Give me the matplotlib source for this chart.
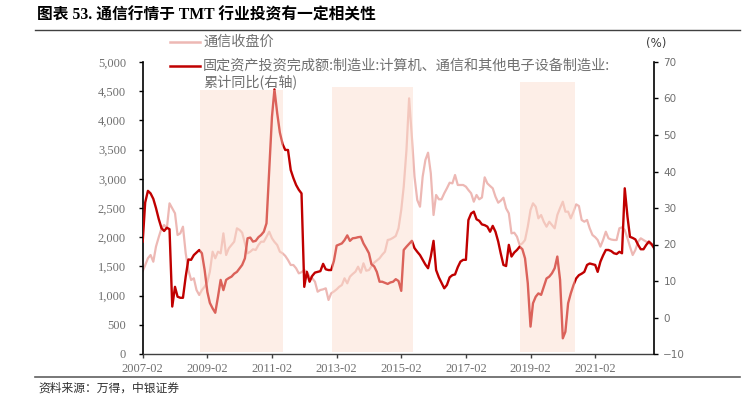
import matplotlib
matplotlib.use("Agg")
import matplotlib.pyplot as plt
import matplotlib.ticker as mticker
from matplotlib.lines import Line2D
import pandas as pd

# ---------------- data ----------------
months = pd.date_range("2007-02-01", periods=191, freq="MS")

# 通信收盘价 (left axis)
price = [
    1420, 1520, 1640, 1695, 1580, 1838, 2000, 2150, 2209, 2152,
    2580, 2495, 2409, 2038, 2066, 2180, 1724, 1438, 1267, 1296,
    1096, 1010, 1096, 1152, 1238, 1409, 1752, 1639, 1752, 1724,
    2066, 1695, 1810, 1866, 1923, 2152, 2123, 2077, 1895, 1724,
    1752, 1793, 1781, 1866, 1923, 1923, 2009, 2094, 1981, 1920,
    1866, 1752, 1724, 1680, 1610, 1524, 1524, 1467, 1381, 1400,
    1438, 1409, 1324, 1296, 1238, 1067, 1096, 1107, 1125, 925,
    1039, 1070, 1107, 1150, 1181, 1296, 1210, 1324, 1370, 1409,
    1495, 1392, 1553, 1426, 1438, 1500, 1564, 1600, 1639, 1700,
    1752, 1952, 1964, 1990, 2021, 2152, 2466, 2865, 3493, 4378,
    3721, 3036, 2637, 2522, 3036, 3322, 3447, 3094, 2380, 2723,
    2649, 2649, 2752, 2837, 2933, 2922, 3065, 2894, 2894, 2894,
    2865, 2808, 2752, 2608, 2723, 2649, 2680, 3025, 2922, 2877,
    2837, 2694, 2591, 2625, 2676, 2494, 2409, 2066, 2077, 2009,
    1866, 1895, 1952, 2180, 2466, 2580, 2522, 2323, 2380, 2265,
    2180, 2265, 2209, 2152, 2380, 2500, 2608, 2437, 2437, 2323,
    2437, 2563, 2534, 2295, 2265, 2295, 2152, 2038, 2000, 1952,
    1838, 1952, 2094, 1981, 1960, 1952, 1952, 2152, 2169, 2123,
    1981, 1838, 1695, 1781, 1923, 1981, 1952, 1923, 1900, 1866,
    1838,
]

# 固定资产投资完成额:制造业:计算机、通信和其他电子设备制造业:累计同比 (right axis, %)
fai = [
    20.8, 31.5, 34.7, 34.0, 32.5, 30.0, 27.0, 24.5, 23.7, 24.6,
    24.2, 3.0, 8.4, 5.7, 5.4, 5.4, 11.2, 15.9, 15.8, 17.1,
    17.8, 18.5, 17.6, 13.0, 7.0, 4.0, 2.5, 1.3, 5.7, 10.3,
    7.5, 10.3, 10.8, 11.2, 12.0, 12.5, 13.5, 14.4, 16.2, 21.7,
    21.9, 20.8, 21.0, 22.0, 22.6, 23.5, 25.8, 40.4, 55.0, 62.5,
    56.0, 50.7, 47.5, 45.9, 45.9, 40.4, 38.2, 36.3, 35.0, 34.0,
    8.4, 12.5, 9.8, 11.4, 12.3, 12.5, 12.7, 14.7, 13.2, 13.0,
    13.0, 15.5, 19.7, 20.0, 20.3, 21.2, 22.5, 21.0, 21.7, 21.8,
    22.0, 22.1, 20.3, 19.0, 17.6, 14.6, 14.0, 12.5, 9.8, 9.8,
    9.5, 9.2, 9.6, 9.8, 10.5, 10.0, 7.3, 18.5, 19.4, 20.2,
    21.0, 19.0, 18.0, 17.1, 15.8, 14.5, 13.5, 16.7, 21.0, 13.0,
    11.0, 9.5, 8.0, 8.9, 11.0, 11.6, 11.8, 13.8, 15.3, 15.8,
    15.8, 26.7, 28.5, 29.0, 26.9, 26.5, 25.5, 25.3, 24.9, 23.5,
    25.1, 23.5, 20.8, 17.6, 14.4, 14.1, 19.9, 16.7, 17.8, 18.5,
    19.4, 18.7, 16.2, 9.4, -2.5, 3.9, 5.7, 6.6, 6.2, 8.4,
    10.7, 11.2, 12.1, 13.5, 16.7, 10.3, -5.7, -3.9, 3.9, 6.6,
    8.9, 10.7, 11.6, 12.0, 12.5, 14.4, 14.8, 14.6, 14.4, 12.5,
    15.3, 17.0, 18.5, 18.5, 18.2, 17.6, 17.4, 18.0, 17.6, 35.4,
    27.6, 22.1, 21.8, 21.4, 19.9, 18.7, 18.7, 19.9, 20.8, 20.1,
    18.9,
]

band_starts = ["2008-11-10", "2012-12-05", "2018-10-05"]
band_ends = ["2011-06-01", "2015-06-15", "2020-06-20"]

xtick_labels = ["2007-02", "2009-02", "2011-02", "2013-02",
                "2015-02", "2017-02", "2019-02", "2021-02"]
left_ticks = list(range(0, 5001, 500))
right_ticks = list(range(-10, 71, 10))

title = "图表 53. 通信行情于 TMT 行业投资有一定相关性"
legend1 = "通信收盘价"
legend2a = "固定资产投资完成额:制造业:计算机、通信和其他电子设备制造业:"
legend2b = "累计同比(右轴)"
source = "资料来源：万得，中银证券"

# ---------------- style ----------------
W, H = 742, 398
PINK = "#EDB8B4"
RED = "#C00000"
SHADE = "#FCDACA"
GREY = "#707070"
CJK = ["Noto Sans CJK SC", "DejaVu Sans"]
SERIF = ["Liberation Serif", "Noto Sans CJK SC"]
band_tops = [0.904, 0.914, 0.932]


def fx(px):
    return px / W


def fy(py):
    return 1 - py / H


fig = plt.figure(figsize=(W / 100, H / 100), dpi=100)
ax = fig.add_axes([fx(142.7), fy(354), fx(654.3) - fx(142.7), fy(62) - fy(354)])

ax.plot(months, price, color=PINK, lw=1.6, zorder=2, solid_joinstyle="round")
ax.set_ylim(0, 5000)
ax.set_yticks(left_ticks)
ax.yaxis.set_major_formatter(mticker.FuncFormatter(lambda v, p: f"{int(v):,}"))
ax.set_xlim(months[0], months[-1])
ax.set_xticks([pd.Timestamp(t + "-01") for t in xtick_labels])
ax.set_xticklabels(xtick_labels)

ax2 = ax.twinx()
ax2.plot(months, fai, color=RED, lw=1.7, zorder=2, solid_joinstyle="round")
ax2.set_ylim(-10, 70)
ax2.set_yticks(right_ticks)
for s, e, t in zip(band_starts, band_ends, band_tops):
    ax2.axvspan(pd.Timestamp(s), pd.Timestamp(e), ymin=0.006, ymax=t,
                facecolor=SHADE, alpha=0.45, lw=0, zorder=3)
ax2.set_xlim(months[0], months[-1])

for a in (ax, ax2):
    a.spines["top"].set_visible(False)
    a.patch.set_visible(False)
ax.spines["right"].set_visible(False)
ax2.spines["left"].set_visible(False)
ax2.spines["bottom"].set_visible(False)
ax.spines["left"].set_color("black")
ax.spines["left"].set_linewidth(1.2)
ax.spines["bottom"].set_color("#404040")
ax.spines["bottom"].set_linewidth(1.0)
ax2.spines["right"].set_color("black")
ax2.spines["right"].set_linewidth(1.2)

ax.tick_params(axis="y", direction="out", length=3, width=1, color="black",
               labelsize=9, labelcolor=GREY, pad=9)
ax.tick_params(axis="x", direction="out", length=3, width=1, color="#404040",
               labelsize=9, labelcolor=GREY, pad=3.5)
ax2.tick_params(axis="y", direction="out", length=3, width=1, color="black",
                labelsize=7.5, labelcolor=GREY, pad=3.5)
for lab in ax.get_yticklabels() + ax.get_xticklabels():
    lab.set_family(SERIF)
for lab in ax2.get_yticklabels():
    lab.set_family(["DejaVu Sans"])

# legend (manual, figure coordinates)
fig.add_artist(Line2D([fx(170), fx(200)], [fy(42), fy(42)], color=PINK, lw=1.8,
                      transform=fig.transFigure))
fig.add_artist(Line2D([fx(170), fx(200)], [fy(66), fy(66)], color=RED, lw=1.8,
                      transform=fig.transFigure))
LEG_FS = 10.2
fig.text(fx(203), fy(42), legend1, family=CJK, fontsize=LEG_FS, color=GREY, va="center")
fig.text(fx(203), fy(66), legend2a, family=CJK, fontsize=LEG_FS, color=GREY, va="center")
fig.text(fx(203), fy(82), legend2b, family=CJK, fontsize=LEG_FS, color=GREY, va="center")
fig.text(fx(656), fy(44), "(%)", family=["DejaVu Sans"], fontsize=8.5, color="#404040",
         ha="center", va="center")

# title, rules, source
fig.text(fx(37), fy(15), title, family=SERIF, fontsize=11.3, fontweight="bold",
         color="black", va="center")
fig.add_artist(Line2D([fx(35), fx(740)], [fy(30), fy(30)], color="#404040", lw=1.0,
                      transform=fig.transFigure))
fig.add_artist(Line2D([fx(35), fx(740)], [fy(377), fy(377)], color="#606060", lw=1.2,
                      transform=fig.transFigure))
fig.text(fx(38), fy(388), source, family=CJK, fontsize=8.5, color="#303030",
         style="italic", va="center")

fig.savefig("out.png", dpi=100)
